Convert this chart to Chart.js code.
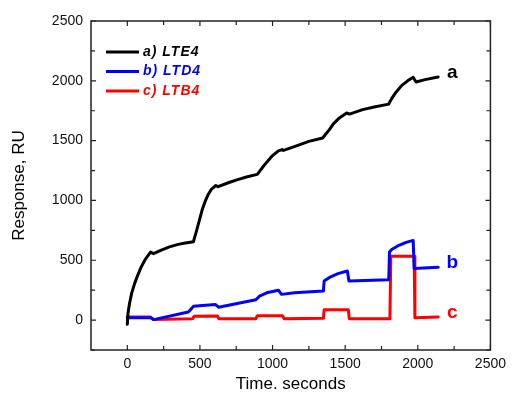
<!DOCTYPE html>
<html>
<head>
<meta charset="utf-8">
<script src="https://cdn.jsdelivr.net/npm/chart.js@4.4.1/dist/chart.umd.min.js"></script>
<style>
  html, body { margin: 0; padding: 0; background: #fff; }
  canvas { display: block; }
</style>
</head>
<body>
<canvas id="sprChart" width="512" height="394"></canvas>
<script>
// time (s) and response (RU)
const lteTime = [0, 5, 15, 30, 50, 70, 95, 125, 160, 180, 230, 290, 350, 400, 455, 475, 495, 515, 535, 555, 580, 610, 625, 700, 760, 820, 895, 930, 960, 1000, 1040, 1065, 1075, 1150, 1250, 1345, 1360, 1390, 1420, 1460, 1510, 1530, 1620, 1700, 1800, 1810, 1820, 1850, 1890, 1930, 1968, 1988, 2050, 2140];
const lteResp = [-35, 60, 137, 225, 305, 370, 443, 510, 568, 555, 583, 612, 633, 645, 655, 740, 830, 920, 990, 1045, 1095, 1125, 1115, 1150, 1174, 1196, 1218, 1275, 1320, 1375, 1415, 1425, 1418, 1450, 1494, 1522, 1545, 1590, 1642, 1690, 1731, 1722, 1759, 1781, 1805, 1830, 1851, 1905, 1962, 2000, 2030, 1990, 2010, 2032];

const ltdTime = [0, 160, 182, 420, 445, 455, 605, 628, 885, 898, 910, 960, 1040, 1062, 1150, 1350, 1355, 1400, 1450, 1515, 1526, 1800, 1805, 1820, 1870, 1920, 1968, 1975, 2140];
const ltdResp = [20, 20, 4, 68, 100, 115, 131, 108, 170, 185, 200, 228, 250, 215, 229, 243, 326, 362, 388, 410, 326, 338, 569, 590, 625, 650, 666, 432, 442];

const ltbTime = [0, 160, 182, 445, 452, 460, 620, 630, 885, 895, 1068, 1080, 1350, 1355, 1522, 1528, 1808, 1814, 1975, 1980, 2140];
const ltbResp = [25, 25, 4, 12, 14, 33, 35, 11, 12, 37, 37, 12, 15, 86, 86, 12, 12, 533, 533, 20, 26];

const seriesNames = ['a) LTE4', 'b) LTD4', 'c) LTB4'];
const curveTags = ['a', 'b', 'c'];
const seriesColors = ['#000000', '#0000ff', '#ff0000'];

const xMajor = [0, 500, 1000, 1500, 2000, 2500];
const xMinor = [250, 750, 1250, 1750, 2250];
const yMajor = [0, 500, 1000, 1500, 2000, 2500];
const yMinor = [-250, 250, 750, 1250, 1750, 2250];

function toPoints(t, r) {
  return t.map((v, i) => ({ x: v, y: r[i] }));
}

const FONT = '"Liberation Sans", Arial, Helvetica, sans-serif';

// frame, inward ticks, legend and curve letters
const decorations = {
  id: 'decorations',
  afterDatasetsDraw(chart) {
    const { ctx, chartArea: a, scales: { x, y } } = chart;
    ctx.save();
    ctx.strokeStyle = '#222';
    ctx.lineWidth = 1.5;
    ctx.strokeRect(a.left, a.top, a.right - a.left, a.bottom - a.top);

    ctx.lineWidth = 1.2;
    ctx.beginPath();
    const xt = (vals, len) => vals.forEach(v => {
      const px = x.getPixelForValue(v);
      ctx.moveTo(px, a.bottom); ctx.lineTo(px, a.bottom - len);
      ctx.moveTo(px, a.top); ctx.lineTo(px, a.top + len);
    });
    const yt = (vals, len) => vals.forEach(v => {
      const py = y.getPixelForValue(v);
      ctx.moveTo(a.left, py); ctx.lineTo(a.left + len, py);
      ctx.moveTo(a.right, py); ctx.lineTo(a.right - len, py);
    });
    xt(xMajor, 5); xt(xMinor, 4);
    yt(yMajor, 5); yt(yMinor, 4);
    ctx.stroke();

    // legend
    ctx.font = 'italic bold 14px ' + FONT;
    ctx.textBaseline = 'middle';
    ctx.textAlign = 'left';
    try { ctx.letterSpacing = '1px'; } catch (e) {}
    seriesNames.forEach((name, i) => {
      const ly = 52 + i * 19.5;
      ctx.strokeStyle = seriesColors[i];
      ctx.lineWidth = 3;
      ctx.beginPath();
      ctx.moveTo(106, ly); ctx.lineTo(139, ly);
      ctx.stroke();
      ctx.fillStyle = seriesColors[i];
      ctx.fillText(name, 143, ly);
    });
    try { ctx.letterSpacing = '0px'; } catch (e) {}

    // curve letters
    ctx.font = 'bold 19px ' + FONT;
    ctx.textBaseline = 'alphabetic';
    ctx.textAlign = 'center';
    const tagY = [2025, 433, 15];
    curveTags.forEach((t, i) => {
      ctx.fillStyle = seriesColors[i];
      ctx.fillText(t, x.getPixelForValue(2238), y.getPixelForValue(tagY[i]));
    });
    ctx.restore();
  }
};

const plain = v => String(v);

const ctx = document.getElementById('sprChart').getContext('2d');
new Chart(ctx, {
  type: 'line',
  data: {
    datasets: [
      { label: seriesNames[0], data: toPoints(lteTime, lteResp), borderColor: seriesColors[0] },
      { label: seriesNames[1], data: toPoints(ltdTime, ltdResp), borderColor: seriesColors[1] },
      { label: seriesNames[2], data: toPoints(ltbTime, ltbResp), borderColor: seriesColors[2] }
    ].map(d => Object.assign(d, { borderWidth: 3, pointRadius: 0, tension: 0, fill: false, borderJoinStyle: 'round', borderCapStyle: 'round' }))
  },
  options: {
    responsive: false,
    animation: false,
    layout: { padding: { top: 21, right: 15, left: 0, bottom: 0 } },
    plugins: { legend: { display: false }, tooltip: { enabled: false } },
    scales: {
      x: {
        type: 'linear',
        min: -250,
        max: 2500,
        grid: { display: false, drawTicks: false },
        border: { display: false },
        afterBuildTicks: s => { s.ticks = xMajor.map(v => ({ value: v })); },
        afterFit: s => { s.height = 44; },
        ticks: { padding: 6, color: '#111', font: { family: FONT, size: 14 }, maxRotation: 0, callback: plain },
        title: { display: true, text: 'Time. seconds', color: '#000', font: { family: FONT, size: 17 }, padding: { top: 0, bottom: -1 } }
      },
      y: {
        type: 'linear',
        min: -250,
        max: 2500,
        grid: { display: false, drawTicks: false },
        border: { display: false },
        afterBuildTicks: s => { s.ticks = yMajor.map(v => ({ value: v })); },
        afterFit: s => { s.width = 91; },
        ticks: { padding: 8, color: '#111', font: { family: FONT, size: 14 }, callback: plain },
        title: { display: true, text: 'Response, RU', color: '#000', font: { family: FONT, size: 17 }, padding: { top: 9, bottom: 0 } }
      }
    }
  },
  plugins: [decorations]
});
</script>
</body>
</html>
